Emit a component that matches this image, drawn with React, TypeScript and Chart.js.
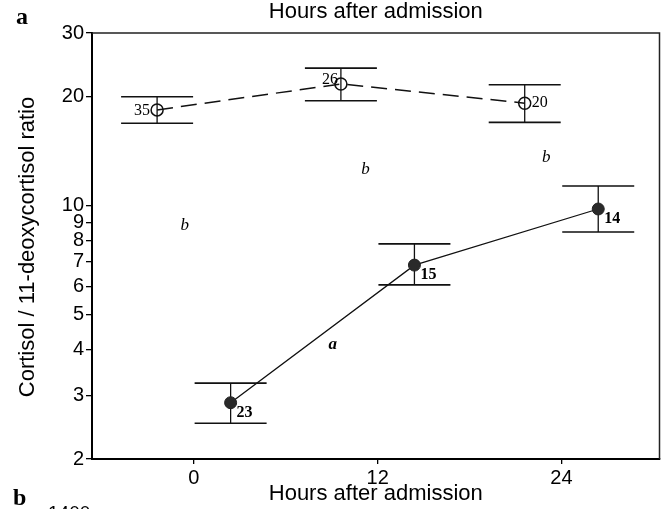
import React, { useEffect, useRef } from "react";
import { Chart, registerables } from "chart.js";

Chart.register(...registerables);

const hours = [0, 12, 24];
const yTicks = [2, 3, 4, 5, 6, 7, 8, 9, 10, 20, 30];

const openMean = [18.4, 21.7, 19.2];
const openUpper = [20.0, 24.0, 21.6];
const openLower = [16.9, 19.5, 17.0];
const openN = ["35", "26", "20"];

const filledMean = [2.86, 6.86, 9.8];
const filledUpper = [3.24, 7.85, 11.34];
const filledLower = [2.51, 6.05, 8.47];
const filledN = ["23", "15", "14"];

// statistical letters
const letterHours = [-0.6, 11.2, 23.0, 9.07];
const letterValues = [8.8, 12.6, 13.6, 4.13];
const letterTexts = ["b", "b", "b", "a"];

const OFFSET = 2.4;
const SANS = '"Liberation Sans", Arial, sans-serif';
const SERIF = '"Liberation Serif", "Times New Roman", serif';

const decorPlugin = {
  id: "decor",
  beforeDatasetsDraw(chart: any) {
    const { ctx, chartArea: a, scales } = chart;
    const xs = scales.x;
    const ys = scales.y;
    ctx.save();
    ctx.strokeStyle = "#222";
    ctx.lineWidth = 1.5;
    ctx.beginPath();
    ctx.moveTo(a.left, a.top);
    ctx.lineTo(a.right, a.top);
    ctx.lineTo(a.right, a.bottom);
    ctx.stroke();
    const capHalf = 36;
    chart.data.datasets.forEach((ds: any) => {
      ds.data.forEach((p: any, i: number) => {
        const px = xs.getPixelForValue(p.x);
        const yu = ys.getPixelForValue(ds.errUpper[i]);
        const yl = ys.getPixelForValue(ds.errLower[i]);
        ctx.strokeStyle = "#111";
        ctx.lineWidth = 1.3;
        ctx.beginPath();
        ctx.moveTo(px, yu);
        ctx.lineTo(px, yl);
        ctx.stroke();
        ctx.lineWidth = 1.6;
        ctx.beginPath();
        ctx.moveTo(px - capHalf, yu);
        ctx.lineTo(px + capHalf, yu);
        ctx.moveTo(px - capHalf, yl);
        ctx.lineTo(px + capHalf, yl);
        ctx.stroke();
      });
    });
    ctx.restore();
  },
  afterDraw(chart: any) {
    const { ctx, chartArea: a, scales } = chart;
    const xs = scales.x;
    const ys = scales.y;
    ctx.save();
    ctx.fillStyle = "#000";
    ctx.textBaseline = "middle";
    ctx.textAlign = "center";
    const cx = (a.left + a.right) / 2;
    ctx.font = `22px ${SANS}`;
    ctx.fillText("Hours after admission", cx, 12);
    ctx.fillText("Hours after admission", cx, 494);
    ctx.save();
    ctx.translate(28, 247);
    ctx.rotate(-Math.PI / 2);
    ctx.fillText("Cortisol / 11-deoxycortisol ratio", 0, 0);
    ctx.restore();

    ctx.textAlign = "left";
    ctx.textBaseline = "alphabetic";
    ctx.font = `bold 24px ${SERIF}`;
    ctx.fillText("a", 16, 24);
    ctx.fillText("b", 13, 505);
    ctx.font = `19px ${SANS}`;
    ctx.fillText("1400", 48, 519);

    ctx.font = `16px ${SERIF}`;
    ctx.textBaseline = "middle";
    const o0x = xs.getPixelForValue(hours[0] - OFFSET);
    const o0y = ys.getPixelForValue(openMean[0]);
    ctx.textAlign = "right";
    ctx.fillText(openN[0], o0x - 7, o0y + 1);
    const o1x = xs.getPixelForValue(hours[1] - OFFSET);
    const o1y = ys.getPixelForValue(openMean[1]);
    ctx.fillText(openN[1], o1x - 3, o1y - 4);
    const o2x = xs.getPixelForValue(hours[2] - OFFSET);
    const o2y = ys.getPixelForValue(openMean[2]);
    ctx.textAlign = "left";
    ctx.fillText(openN[2], o2x + 7, o2y);

    ctx.font = `bold 16px ${SERIF}`;
    filledN.forEach((t, i) => {
      const px = xs.getPixelForValue(hours[i] + OFFSET);
      const py = ys.getPixelForValue(filledMean[i]);
      ctx.fillText(t, px + 6, py + 10);
    });

    ctx.textAlign = "center";
    letterTexts.forEach((t, i) => {
      ctx.font = t === "a" ? `italic bold 17px ${SERIF}` : `italic 17px ${SERIF}`;
      ctx.fillText(t, xs.getPixelForValue(letterHours[i]), ys.getPixelForValue(letterValues[i]));
    });
    ctx.restore();
  },
};

export default function App() {
  const ref = useRef<HTMLCanvasElement | null>(null);
  useEffect(() => {
    if (!ref.current) return;
    const chart = new Chart(ref.current, {
      type: "line",
      data: {
        datasets: [
          {
            data: hours.map((h, i) => ({ x: h - OFFSET, y: openMean[i] })),
            errUpper: openUpper,
            errLower: openLower,
            borderColor: "#111",
            borderWidth: 1.5,
            borderDash: [16, 8],
            pointRadius: 6,
            pointBorderWidth: 1.5,
            pointBorderColor: "#111",
            pointBackgroundColor: "rgba(0,0,0,0)",
            tension: 0,
          } as any,
          {
            data: hours.map((h, i) => ({ x: h + OFFSET, y: filledMean[i] })),
            errUpper: filledUpper,
            errLower: filledLower,
            borderColor: "#111",
            borderWidth: 1.3,
            pointRadius: 6,
            pointBorderWidth: 1,
            pointBorderColor: "#222",
            pointBackgroundColor: "#2a2a2a",
            tension: 0,
          } as any,
        ],
      },
      options: {
        animation: false,
        responsive: false,
        layout: { padding: { top: 33, right: 6, left: 0, bottom: 0 } },
        plugins: { legend: { display: false }, tooltip: { enabled: false }, title: { display: false } },
        scales: {
          x: {
            type: "linear",
            min: -6.65,
            max: 30.4,
            afterBuildTicks: (s: any) => {
              s.ticks = hours.map((v) => ({ value: v }));
            },
            afterFit: (s: any) => {
              s.height = 50;
            },
            grid: { display: true, drawOnChartArea: false, drawTicks: true, tickLength: 5, color: "#000", lineWidth: 1.3 },
            border: { display: true, color: "#000", width: 2 },
            ticks: { color: "#000", font: { family: SANS, size: 20 }, padding: 2, maxRotation: 0, callback: (v: any) => String(v) },
          },
          y: {
            type: "logarithmic",
            min: 2,
            max: 30,
            afterBuildTicks: (s: any) => {
              s.ticks = yTicks.map((v) => ({ value: v }));
            },
            afterFit: (s: any) => {
              s.width = 92;
            },
            grid: { display: true, drawOnChartArea: false, drawTicks: true, tickLength: 6, color: "#000", lineWidth: 1.3 },
            border: { display: true, color: "#000", width: 2 },
            ticks: { color: "#000", font: { family: SANS, size: 20 }, padding: 2, autoSkip: false, callback: (v: any) => String(v) },
          },
        },
      } as any,
      plugins: [decorPlugin],
    });
    return () => chart.destroy();
  }, []);
  return (
    <div style={{ position: "fixed", left: 0, top: 0, width: 667, height: 509, background: "#fff" }}>
      <canvas ref={ref} width={667} height={509} style={{ display: "block" }} />
    </div>
  );
}
